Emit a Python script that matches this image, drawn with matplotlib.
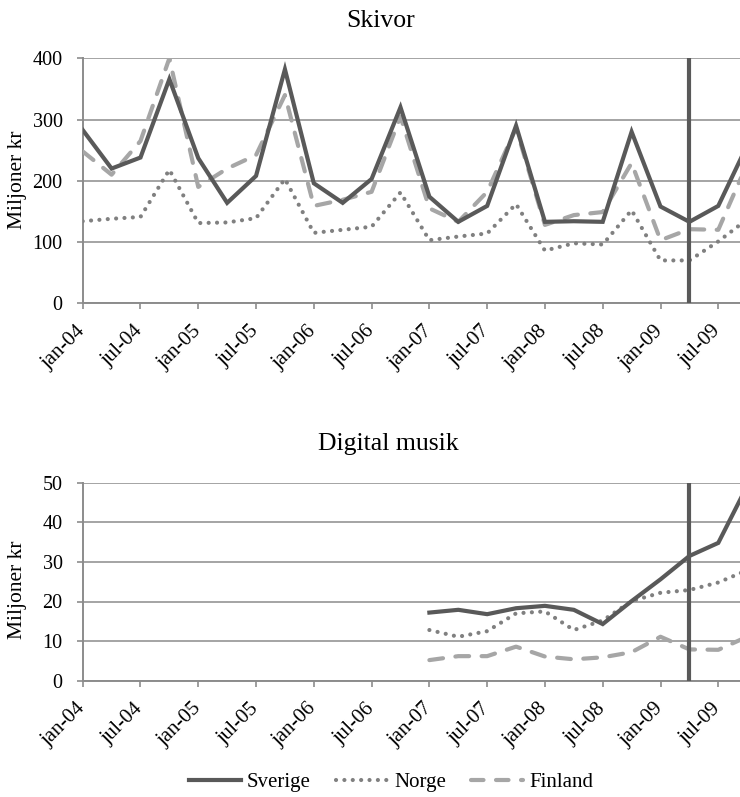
import numpy as np
import matplotlib
matplotlib.use("Agg")
import matplotlib.pyplot as plt
from matplotlib.lines import Line2D

plt.rcParams['font.family'] = ['Liberation Serif', 'DejaVu Serif']

# Quarterly data, Q1 2004 .. Q4 2009
quarters = ["jan-04", "apr-04", "jul-04", "okt-04", "jan-05", "apr-05", "jul-05", "okt-05",
            "jan-06", "apr-06", "jul-06", "okt-06", "jan-07", "apr-07", "jul-07", "okt-07",
            "jan-08", "apr-08", "jul-08", "okt-08", "jan-09", "apr-09", "jul-09", "okt-09"]
tick_labels = ["jan-04", "jul-04", "jan-05", "jul-05", "jan-06", "jul-06",
               "jan-07", "jul-07", "jan-08", "jul-08", "jan-09", "jul-09"]

# Skivor (Miljoner kr)
skivor_sverige = [283, 220, 238, 366, 237, 164, 208, 382, 196, 164, 203, 320,
                  174, 133, 159, 290, 133, 134, 133, 280, 158, 133, 159, 258]
skivor_norge = [134, 138, 141, 218, 131, 132, 139, 203, 115, 120, 125, 181,
                103, 109, 114, 162, 86, 98, 96, 152, 70, 70, 101, 137]
skivor_finland = [248, 210, 265, 400, 190, 220, 242, 340, 159, 169, 182, 305,
                  155, 133, 182, 286, 128, 144, 149, 229, 103, 121, 120, 228]

# Digital musik (Miljoner kr)
nan = np.nan
digital_sverige = [nan, nan, nan, nan, nan, nan, nan, nan, nan, nan, nan, nan,
                   17.2, 17.9, 16.8, 18.3, 18.9, 17.9, 14.3, 20.1, 25.6, 31.5, 34.8, 49.2]
digital_norge = [nan, nan, nan, nan, nan, nan, nan, nan, nan, nan, nan, nan,
                 12.8, 11.1, 12.5, 17.0, 17.5, 12.8, 15.2, 20.1, 22.2, 22.9, 24.8, 27.9]
digital_finland = [nan, nan, nan, nan, nan, nan, nan, nan, nan, nan, nan, nan,
                   5.2, 6.2, 6.2, 8.6, 6.1, 5.4, 5.9, 7.2, 11.1, 7.9, 7.8, 11.1]

marker_quarter = "apr-09"

C_SVE = "#595959"
C_NOR = "#808080"
C_FIN = "#a6a6a6"
C_GRID = "#8c8c8c"

W, H = 740, 797
fig = plt.figure(figsize=(W / 100, H / 100), dpi=100)

x = np.arange(len(quarters))
xmax = (740 - 82.7) / 28.89


def style_axes(ax, ymax, ystep):
    ax.set_xlim(0, xmax)
    ax.set_ylim(0, ymax)
    ax.set_yticks(np.arange(0, ymax + 0.1, ystep))
    ax.set_xticks(x[::2])
    ax.set_xticklabels(tick_labels, rotation=45, ha='right', va='center',
                       rotation_mode='anchor', fontsize=15)
    ax.tick_params(axis='x', length=4, width=1.2, color=C_GRID, pad=14)
    ax.tick_params(axis='y', length=4, width=1.2, color=C_GRID, pad=10.5, labelsize=14.5)
    ax.yaxis.grid(True, color=C_GRID, linewidth=1.1)
    ax.set_axisbelow(True)
    for s in ['top', 'right']:
        ax.spines[s].set_visible(False)
    for s in ['left', 'bottom']:
        ax.spines[s].set_color(C_GRID)
        ax.spines[s].set_linewidth(1.4)


def draw_series(ax, sve, nor, fin):
    ax.plot(x, sve, color=C_SVE, lw=3.0, solid_joinstyle='miter', zorder=4)
    ax.plot(x, nor, color=C_NOR, lw=3.0, dashes=(0.01, 2.0),
            dash_capstyle='round', zorder=3)
    ax.plot(x, fin, color=C_FIN, lw=3.0, dashes=(3.3, 3.0),
            dash_capstyle='round', zorder=3)
    ax.axvline(quarters.index(marker_quarter), color=C_SVE, lw=3.0, zorder=5)


ax1 = fig.add_axes([82.7 / W, 1 - 303.3 / H, 1 - 82.7 / W, (303.3 - 58.3) / H])
style_axes(ax1, 400, 100)
draw_series(ax1, skivor_sverige, skivor_norge, skivor_finland)

ax2 = fig.add_axes([82.7 / W, 1 - 680.7 / H, 1 - 82.7 / W, (680.7 - 482.7) / H])
style_axes(ax2, 50, 10)
draw_series(ax2, digital_sverige, digital_norge, digital_finland)

fig.text(381 / W, 1 - 27 / H, "Skivor", ha='center', va='baseline', fontsize=18.5)
fig.text(388 / W, 1 - 450 / H, "Digital musik", ha='center', va='baseline', fontsize=18.5)
fig.text(18 / W, 1 - 180 / H, "Miljoner kr", rotation=90, ha='center', va='center', fontsize=15.5)
fig.text(18 / W, 1 - 590 / H, "Miljoner kr", rotation=90, ha='center', va='center', fontsize=15.5)

handles = [
    Line2D([], [], color=C_SVE, lw=3.0),
    Line2D([], [], color=C_NOR, lw=3.0, dashes=(0.01, 2.0), dash_capstyle='round'),
    Line2D([], [], color=C_FIN, lw=3.0, dashes=(3.0, 3.0), dash_capstyle='round'),
]
fig.legend(handles, ["Sverige", "Norge", "Finland"], loc='center',
           bbox_to_anchor=(391 / W, 1 - 782 / H), ncol=3, frameon=False,
           fontsize=15, handlelength=2.5, handletextpad=0.3, columnspacing=1.2)

fig.savefig("out.png", dpi=100)
